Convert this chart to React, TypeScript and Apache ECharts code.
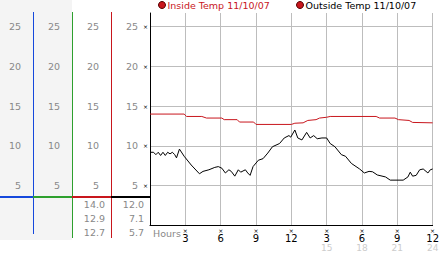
import React, { useEffect, useRef } from "react";
import * as echarts from "echarts";

const seriesNames = ["Inside Temp 11/10/07", "Outside Temp 11/10/07"];

const insideHours = [0, 2.9, 3.1, 4.4, 4.8, 6.1, 6.3, 7.4, 7.6, 8.8, 9.0, 12.0, 12.3, 13.0, 13.4, 14.1, 14.4, 15.0, 15.3, 19.2, 19.5, 20.8, 21.1, 22.0, 22.3, 24];
const insideTemps = [14.0, 14.0, 13.7, 13.7, 13.5, 13.5, 13.3, 13.3, 13.0, 13.0, 12.7, 12.7, 12.85, 12.9, 13.2, 13.3, 13.5, 13.6, 13.7, 13.7, 13.5, 13.5, 13.3, 13.2, 12.95, 12.9];

const outsideHours = [0, 0.3, 0.5, 0.7, 0.9, 1.1, 1.3, 1.5, 1.7, 1.9, 2.1, 2.25, 2.5, 2.9, 3.5, 4.2, 4.5, 5.0, 5.5, 5.8, 6.1, 6.4, 6.7, 6.9, 7.2, 7.5, 7.7, 8.1, 8.3, 8.5, 8.75, 9.2, 9.6, 10.0, 10.4, 11.0, 11.4, 11.8, 11.95, 12.3, 12.55, 12.9, 13.3, 13.6, 13.9, 14.2, 14.6, 15.0, 15.3, 15.7, 16.25, 16.6, 17.1, 17.8, 18.2, 18.6, 18.9, 19.3, 20.0, 20.4, 21.5, 21.9, 22.1, 22.3, 22.6, 22.9, 23.2, 23.6, 23.8, 24];
const outsideTemps = [9.2, 9.2, 8.9, 9.2, 8.8, 9.2, 8.8, 9.2, 9.0, 9.2, 8.9, 8.5, 9.6, 8.7, 7.6, 6.5, 6.8, 7.0, 7.3, 7.4, 7.2, 6.6, 7.0, 6.8, 6.2, 7.0, 6.7, 7.0, 6.6, 6.3, 7.4, 8.2, 8.4, 9.1, 9.9, 10.3, 11.0, 11.3, 11.1, 12.0, 11.0, 10.75, 11.7, 11.0, 11.3, 10.9, 11.0, 11.0, 10.3, 9.9, 8.9, 8.7, 7.8, 7.1, 6.6, 6.8, 6.75, 6.35, 6.1, 5.7, 5.7, 6.1, 6.7, 6.2, 6.3, 7.0, 7.1, 6.6, 7.0, 7.1];

const insideStats = ["14.0", "12.9", "12.7"];
const outsideStats = ["12.0", "7.1", "5.7"];

const xTickLabels = ["Hours", "3", "6", "9", "12", "3", "6", "9", "12"];
const xSubLabels = ["", "", "", "", "", "15", "18", "21", "24"];

const RED = "#c8161d";
const BLUE = "#1548dc";
const GREEN = "#2ea02e";
const FONT = "DejaVu Sans";
const MARK = "\u00d7";

const Y_MAX = 26.7;

export default function App() {
  const ref = useRef<HTMLDivElement>(null);
  useEffect(() => {
    if (!ref.current) return;
    const chart = echarts.init(ref.current, null, { renderer: "svg" });

    const yLabel = (v: number) => (v === 0 || v > 25 ? "" : String(v));
    const sideY = (gridIndex: number) => ({
      type: "value",
      gridIndex,
      min: 0,
      max: Y_MAX,
      interval: 5,
      axisLine: { show: false },
      axisTick: { show: false },
      splitLine: { show: false },
      axisLabel: { margin: 12, color: "#888", fontFamily: FONT, fontSize: 9.5, formatter: yLabel },
    });
    const sideX = (gridIndex: number) => ({ type: "value", gridIndex, min: 0, max: 1, show: false });

    const statText = (vals: string[], x: number) =>
      vals.map((t, i) => ({
        type: "text",
        x,
        y: 204 + i * 14.3,
        style: { text: t, fill: "#888", font: `9.5px "${FONT}"`, textAlign: "right", textVerticalAlign: "middle" },
      }));

    const legendBase = {
      top: 0,
      padding: 0,
      icon: "circle",
      itemWidth: 7,
      itemHeight: 7,
      textStyle: { fontFamily: FONT, fontSize: 9.5, padding: [0, 0, 0, -3] },
    };

    chart.setOption({
      animation: false,
      backgroundColor: "#fff",
      graphic: [
        { type: "rect", shape: { x: 0, y: 0, width: 72, height: 240 }, style: { fill: "#f4f4f4" }, z: -10 },
        { type: "line", shape: { x1: 33.5, y1: 12, x2: 33.5, y2: 234 }, style: { stroke: BLUE, lineWidth: 1 } },
        { type: "line", shape: { x1: 72.5, y1: 12, x2: 72.5, y2: 238 }, style: { stroke: GREEN, lineWidth: 1 } },
        { type: "line", shape: { x1: 111.5, y1: 12, x2: 111.5, y2: 238 }, style: { stroke: RED, lineWidth: 1 } },
        { type: "line", shape: { x1: 0, y1: 197, x2: 33, y2: 197 }, style: { stroke: BLUE, lineWidth: 2 } },
        { type: "line", shape: { x1: 33, y1: 197, x2: 72, y2: 197 }, style: { stroke: GREEN, lineWidth: 2 } },
        { type: "line", shape: { x1: 72, y1: 197, x2: 111, y2: 197 }, style: { stroke: RED, lineWidth: 2 } },
        { type: "line", shape: { x1: 111, y1: 197, x2: 150, y2: 197 }, style: { stroke: "#000", lineWidth: 2 } },
        ...statText(insideStats, 105),
        ...statText(outsideStats, 144),
      ],
      legend: [
        {
          ...legendBase,
          left: 158,
          data: [
            { name: seriesNames[0], itemStyle: { color: RED, borderColor: "#500", borderWidth: 1 }, textStyle: { color: RED } },
          ],
        },
        {
          ...legendBase,
          left: 296,
          data: [
            { name: seriesNames[1], itemStyle: { color: RED, borderColor: "#500", borderWidth: 1 }, textStyle: { color: "#000" } },
          ],
        },
      ],
      grid: [
        { left: 150, right: 5, top: 13, bottom: 27.5 },
        { left: 33, width: 1, top: 13, bottom: 27.5 },
        { left: 72, width: 1, top: 13, bottom: 27.5 },
        { left: 111, width: 1, top: 13, bottom: 27.5 },
      ],
      xAxis: [
        {
          type: "value",
          gridIndex: 0,
          min: 0,
          max: 24,
          interval: 3,
          axisLine: { show: true, lineStyle: { color: "#000", width: 1 } },
          axisTick: { show: false },
          splitLine: { show: true, lineStyle: { color: "#bdbdbd", width: 1 } },
          axisLabel: {
            margin: 1,
            alignMinLabel: "left",
            formatter: (v: number) => {
              const i = Math.round(v / 3);
              if (i === 0) return `{h|${xTickLabels[0]}}`;
              const sub = xSubLabels[i] ? `\n{s|${xSubLabels[i]}}` : "";
              return `{g|${MARK}}\n{n|${xTickLabels[i]}}${sub}`;
            },
            rich: {
              h: { fontFamily: FONT, fontSize: 9.5, lineHeight: 14, color: "#888", padding: [0, 0, 0, 3] },
              g: { fontFamily: FONT, fontSize: 6, lineHeight: 7, color: "#000" },
              n: { fontFamily: FONT, fontSize: 10, lineHeight: 10, color: "#000" },
              s: { fontFamily: FONT, fontSize: 9, lineHeight: 9, color: "#ccc" },
            },
          },
        },
        sideX(1),
        sideX(2),
        sideX(3),
      ],
      yAxis: [
        {
          type: "value",
          gridIndex: 0,
          min: 0,
          max: Y_MAX,
          interval: 5,
          axisLine: { show: true, lineStyle: { color: "#000", width: 1 } },
          axisTick: { show: false },
          splitLine: {
            show: true,
            showMaxLine: false,
            lineStyle: { color: ["#bdbdbd", "#bdbdbd", "#bdbdbd", "#bdbdbd", "#bdbdbd", "#bdbdbd", "rgba(0,0,0,0)"], width: 1 },
          },
          axisLabel: {
            margin: 2,
            formatter: (v: number) => (v === 0 || v > 25 ? "" : `{n|${v}}{g|${MARK}}`),
            rich: {
              n: { fontFamily: FONT, fontSize: 9.5, color: "#888" },
              g: { fontFamily: FONT, fontSize: 6, color: "#000", padding: [0, 0, 0, 5] },
            },
          },
        },
        sideY(1),
        sideY(2),
        sideY(3),
      ],
      series: [
        {
          name: seriesNames[0],
          type: "line",
          xAxisIndex: 0,
          yAxisIndex: 0,
          data: insideHours.map((h, i) => [h, insideTemps[i]]),
          showSymbol: false,
          lineStyle: { color: RED, width: 1 },
          itemStyle: { color: RED },
        },
        {
          name: seriesNames[1],
          type: "line",
          xAxisIndex: 0,
          yAxisIndex: 0,
          data: outsideHours.map((h, i) => [h, outsideTemps[i]]),
          showSymbol: false,
          lineStyle: { color: "#000", width: 1 },
          itemStyle: { color: "#000" },
        },
      ],
    });
    return () => chart.dispose();
  }, []);
  return <div ref={ref} style={{ position: "absolute", left: 0, top: 0, width: 442, height: 253 }} />;
}
